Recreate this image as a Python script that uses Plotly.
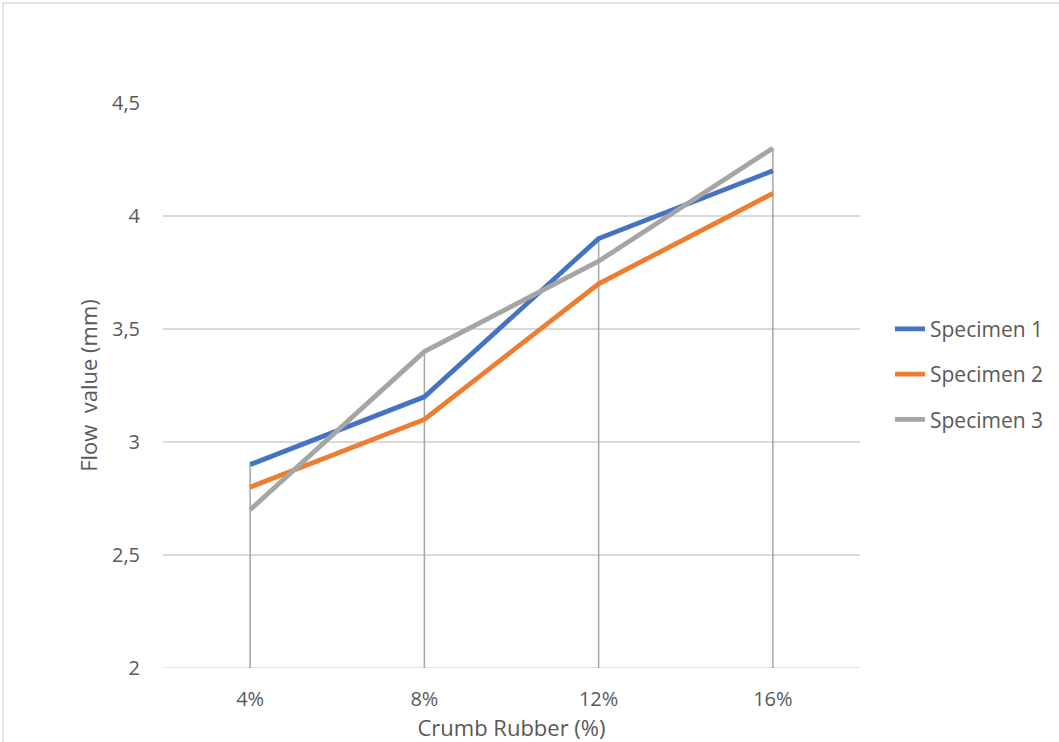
import plotly.graph_objects as go

categories = ["4%", "8%", "12%", "16%"]
specimen_1 = [2.9, 3.2, 3.9, 4.2]
specimen_2 = [2.8, 3.1, 3.7, 4.1]
specimen_3 = [2.7, 3.4, 3.8, 4.3]
series_names = ["Specimen 1", "Specimen 2", "Specimen 3"]
series_colors = ["#4472C4", "#ED7D31", "#A5A5A5"]

y_min, y_max = 2, 4.5
FONT = "Open Sans"
TXT = "#595959"

fig = go.Figure()

# drop lines from highest point to axis
all_series = [specimen_1, specimen_2, specimen_3]
dx, dy = [], []
for i, c in enumerate(categories):
    top = max(s[i] for s in all_series)
    dx += [c, c, None]
    dy += [y_min, top, None]
fig.add_trace(go.Scatter(x=dx, y=dy, mode="lines", line=dict(color="#A5A5A5", width=1.5),
                         showlegend=False, hoverinfo="skip"))

for k, (name, vals, col) in enumerate(zip(series_names, all_series, series_colors)):
    fig.add_trace(go.Scatter(x=categories, y=vals, mode="lines", name=name,
                             legendgroup=f"g{k}",
                             line=dict(color=col, width=4.8)))

fig.update_layout(
    width=1059, height=742,
    margin=dict(l=163, r=199, t=103, b=74, autoexpand=False),
    paper_bgcolor="white", plot_bgcolor="white",
    separators=",.",
    font=dict(family=FONT, color=TXT, size=20),
    showlegend=True,
    legend=dict(x=1.043, y=0.52, xanchor="left", yanchor="middle",
                font=dict(size=21, color=TXT), tracegroupgap=15,
                traceorder="grouped", itemwidth=30),
    xaxis=dict(type="category", range=[-0.5, 3.5], showgrid=False,
               showline=False, zeroline=False, ticks="",
               ticklabelstandoff=17,
               title=dict(text="Crumb Rubber (%)", font=dict(size=22, color=TXT), standoff=0)),
    yaxis=dict(range=[y_min, y_max], dtick=0.5, tick0=2, showgrid=True,
               gridcolor="#D9D9D9", gridwidth=1.5, zeroline=False, showline=False,
               ticks="", ticklabelstandoff=22,
               title=dict(text="Flow  value (mm)", font=dict(size=22, color=TXT), standoff=8)),
    shapes=[dict(type="rect", xref="paper", yref="paper", x0=-0.2296, x1=1.4, y0=-0.2, y1=1.177,
                 line=dict(color="#D9D9D9", width=1.5), fillcolor="rgba(0,0,0,0)", layer="below")],
)
fig.add_shape(type="line", xref="paper", yref="y", x0=0, x1=1, y0=y_min, y1=y_min,
              line=dict(color="#D9D9D9", width=1.5), layer="below")

fig.write_html("out.html", config={"displayModeBar": False},
               post_script="document.body.style.margin='0';")
